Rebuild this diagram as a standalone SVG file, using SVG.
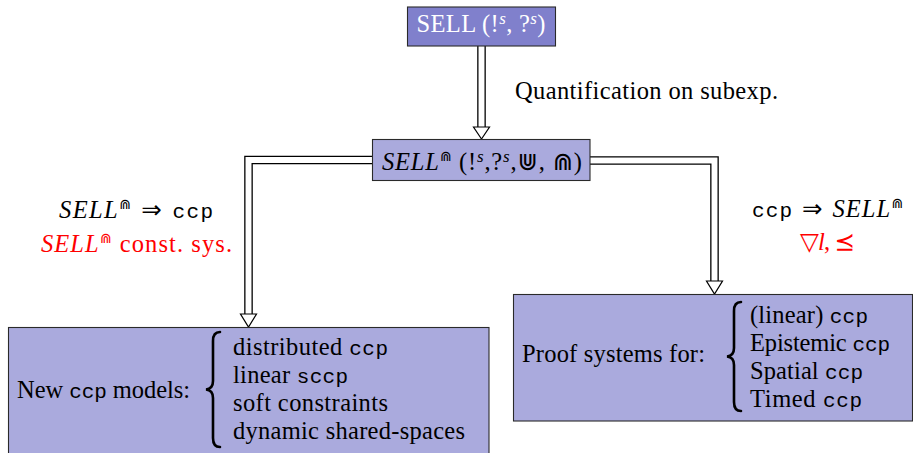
<svg xmlns="http://www.w3.org/2000/svg" width="913" height="453" viewBox="0 0 913 453">
  <style>
    .t { font-family: "Liberation Serif", "DejaVu Serif", serif; font-size: 24.5px; fill: #000; }
    .it { font-style: italic; }
    .tt { font-family: "Liberation Mono", "DejaVu Sans Mono", monospace; font-size: 21px; }
    .sym { font-family: "DejaVu Sans", "Noto Sans", sans-serif; }
    .sup { font-size: 17px; }
    .cap { font-size: 14px; }
    .red { fill: #ff0000; }
    .white { fill: #ffffff; }
    .box { stroke: #2a2a2a; stroke-width: 1.1; }
    .dark { fill: #8080cc; }
    .light { fill: #aaaadd; }
    .dbl-o { fill: none; stroke: #000; stroke-width: 8.6; stroke-linejoin: miter; }
    .dbl-i { fill: none; stroke: #fff; stroke-width: 6; stroke-linejoin: miter; }
    .head { fill: #fff; stroke: #000; stroke-width: 1.2; stroke-linejoin: miter; }
    .brace { fill: none; stroke: #000; stroke-width: 2.6; stroke-linecap: round; }
  </style>

  <!-- double-line implication arrows -->
  <g id="connectors">
    <path class="dbl-o" d="M 481.5 46 V 127"/>
    <path class="dbl-i" d="M 481.5 46 V 127.5"/>
    <polygon class="head" points="473.5,127 489.5,127 481.5,139"/>

    <path class="dbl-o" d="M 372 160 H 248.5 V 314"/>
    <path class="dbl-i" d="M 372 160 H 248.5 V 314.5"/>
    <polygon class="head" points="240.5,314 256.5,314 248.5,327"/>

    <path class="dbl-o" d="M 590 160.5 H 714.5 V 281"/>
    <path class="dbl-i" d="M 590 160.5 H 714.5 V 281.5"/>
    <polygon class="head" points="706.5,281 722.5,281 714.5,294"/>
  </g>

  <g id="sell">
    <rect class="box dark" x="407.5" y="7" width="148" height="39"/>
    <text class="t white" x="481" y="32" text-anchor="middle" textLength="129">SELL (!<tspan class="it sup" dy="-8">s</tspan><tspan dy="8">, ?</tspan><tspan class="it sup" dy="-8">s</tspan><tspan dy="8">)</tspan></text>
  </g>

  <g id="quant-label">
    <text class="t" x="515" y="99" textLength="263">Quantification on subexp.</text>
  </g>

  <g id="sell-sub">
    <rect class="box light" x="372.5" y="139.5" width="217.5" height="41"/>
    <text class="t" x="382" y="170" textLength="200"><tspan class="it">SELL</tspan><tspan class="sym cap" dy="-9">⋒</tspan><tspan dy="9"> (!</tspan><tspan class="it sup" dy="-8">s</tspan><tspan dy="8">,?</tspan><tspan class="it sup" dy="-8">s</tspan><tspan dy="8">,</tspan><tspan class="sym">⋓</tspan>, <tspan class="sym">⋒</tspan>)</text>
  </g>

  <g id="left-label">
    <text class="t" x="59" y="218" textLength="154"><tspan class="it">SELL</tspan><tspan class="sym cap" dy="-9">⋒</tspan><tspan class="sym" dy="9"> ⇒ </tspan><tspan class="tt">ccp</tspan></text>
    <text class="t red" x="41" y="252" textLength="191"><tspan class="it">SELL</tspan><tspan class="sym cap" dy="-9">⋒</tspan><tspan dy="9"> const. sys.</tspan></text>
  </g>

  <g id="right-label">
    <text class="t" x="752" y="217" textLength="151"><tspan class="tt">ccp</tspan><tspan class="sym"> ⇒ </tspan><tspan class="it">SELL</tspan><tspan class="sym cap" dy="-9">⋒</tspan></text>
    <text class="t red" x="800" y="250" textLength="55"><tspan class="sym">▽</tspan><tspan class="it">l</tspan>, <tspan class="sym">⪯</tspan></text>
  </g>

  <g id="models">
    <rect class="box light" x="8.5" y="327.5" width="480.5" height="140"/>
    <text class="t" x="17" y="398" textLength="173">New <tspan class="tt">ccp</tspan> models:</text>
    <path class="brace" d="M 220 332 C 215 332 213 335 213 341 L 213 381 C 213 386 211 389 206 389.5 C 211 390 213 393 213 398 L 213 438 C 213 444 215 447 220 447"/>
    <text class="t" x="233" y="355" textLength="155">distributed <tspan class="tt">ccp</tspan></text>
    <text class="t" x="233" y="383" textLength="115">linear <tspan class="tt">sccp</tspan></text>
    <text class="t" x="233" y="411" textLength="155">soft constraints</text>
    <text class="t" x="233" y="439" textLength="232">dynamic shared-spaces</text>
  </g>

  <g id="proofs">
    <rect class="box light" x="513.5" y="294.5" width="399" height="126.5"/>
    <text class="t" x="522" y="362" textLength="183">Proof systems for:</text>
    <path class="brace" d="M 741 302 C 736 302 734 305 734 311 L 734 348 C 734 353 732 356 727 356.5 C 732 357 734 360 734 365 L 734 402 C 734 408 736 411 741 411"/>
    <text class="t" x="750" y="323" textLength="118">(linear) <tspan class="tt">ccp</tspan></text>
    <text class="t" x="750" y="351" textLength="140">Epistemic <tspan class="tt">ccp</tspan></text>
    <text class="t" x="750" y="379" textLength="113">Spatial <tspan class="tt">ccp</tspan></text>
    <text class="t" x="750" y="407" textLength="112">Timed <tspan class="tt">ccp</tspan></text>
  </g>
</svg>
